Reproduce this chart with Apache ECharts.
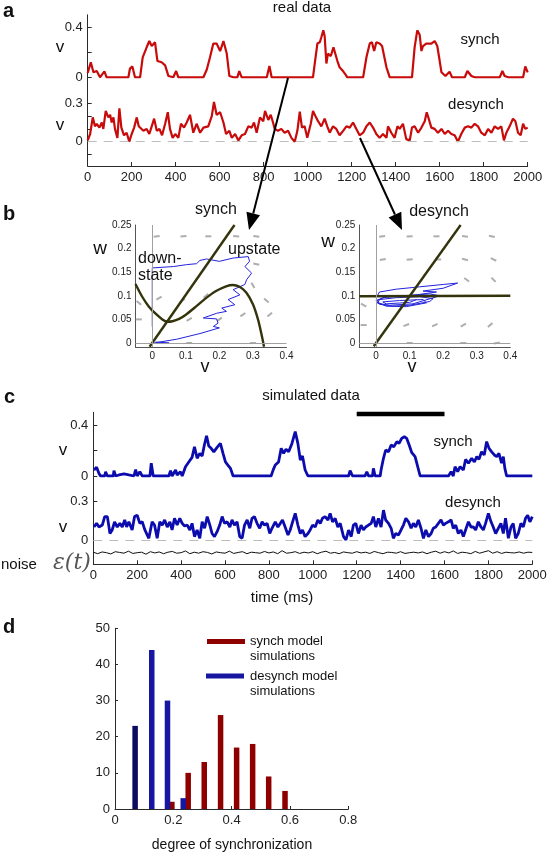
<!DOCTYPE html>
<html><head><meta charset="utf-8">
<script src="https://cdn.jsdelivr.net/npm/echarts@6/dist/echarts.min.js"></script>
<style>html,body{margin:0;padding:0;background:#fff}#c{width:550px;height:853px}</style>
</head><body><div id="c"></div>
<script>
// ---------- panel a : real data (time ms, v) ----------
const synchA = [[0,0.034],[14,0.12],[26,0.04],[41,0.05],[56,0],[76,0.047],[86,0],[185,0],[192,0.07],[203,0.087],[215,0],[238,0],[250,0.16],[268,0.24],[280,0.29],[291,0.25],[306,0.28],[317,0.13],[326,0.14],[336,0.12],[352,0.095],[367,0.01],[389,0],[402,0.05],[412,0],[526,0],[541,0.06],[556,0.16],[571,0.27],[586,0.27],[602,0.21],[617,0.29],[632,0.19],[644,0.01],[662,0],[680,0],[689,0.05],[700,0],[814,0],[826,0.09],[836,0],[1024,0],[1032,0.11],[1044,0.27],[1055,0.28],[1062,0.32],[1071,0.376],[1077,0.33],[1085,0.11],[1092,0.19],[1105,0.17],[1117,0.24],[1126,0.24],[1135,0.13],[1145,0.08],[1158,0.055],[1165,0.047],[1173,0.02],[1180,0],[1252,0],[1267,0.16],[1282,0.27],[1292,0.28],[1302,0.21],[1312,0.28],[1327,0.27],[1338,0.25],[1358,0.08],[1373,0],[1474,0],[1486,0.24],[1498,0.376],[1509,0.34],[1517,0.21],[1524,0.25],[1539,0.27],[1562,0.27],[1577,0.29],[1589,0.25],[1600,0.13],[1608,0.04],[1615,0.055],[1626,0.01],[1635,0.02],[1645,0.045],[1656,0],[1714,0],[1726,0.05],[1744,0.01],[1759,0],[1873,0],[1885,0.05],[1895,0.01],[1911,0],[1979,0],[1989,0.087],[2000,0.04]];
const desynchA = [[0,0.01],[11,0.06],[23,0.19],[33,0.12],[41,0.14],[53,0.11],[64,0.15],[71,0.10],[82,0.24],[94,0.19],[102,0.21],[109,0.15],[117,0.19],[124,0.10],[135,0.03],[144,0.26],[153,0.11],[165,0.05],[177,0.07],[189,0.0],[200,0.06],[211,0.11],[223,0.19],[232,0.12],[241,0.12],[253,0.085],[268,0.10],[280,0.06],[291,0.12],[302,0.18],[314,0.085],[326,0.10],[338,0.05],[352,0.14],[364,0.23],[374,0.10],[386,0.03],[398,0.06],[412,0.03],[424,0.14],[438,0.11],[450,0.15],[465,0.21],[480,0.07],[495,0.14],[511,0.07],[526,0.11],[548,0.12],[564,0.20],[574,0.31],[586,0.21],[602,0.23],[617,0.15],[629,0.06],[644,0.085],[655,0.03],[670,0.06],[685,0.01],[700,0.05],[715,0.06],[730,0.12],[745,0.11],[756,0.15],[768,0.07],[783,0.19],[798,0.16],[806,0.24],[821,0.17],[832,0.21],[844,0.14],[850,0.10],[865,0.085],[880,0.10],[895,0.07],[911,0.085],[926,0.03],[941,0.0],[953,0.085],[964,0.235],[974,0.11],[986,0.12],[998,0.03],[1014,0.14],[1024,0.24],[1035,0.20],[1047,0.16],[1062,0.12],[1077,0.18],[1089,0.12],[1100,0.07],[1115,0.12],[1130,0.10],[1145,0.05],[1161,0.085],[1176,0.12],[1191,0.11],[1206,0.15],[1221,0.10],[1236,0.05],[1252,0.07],[1267,0.12],[1282,0.15],[1297,0.11],[1312,0.06],[1327,0.03],[1342,0.06],[1358,0.03],[1365,0.12],[1380,0.07],[1395,0.03],[1408,0.12],[1418,0.10],[1433,0.14],[1448,0.02],[1464,0.01],[1474,0.11],[1486,0.12],[1502,0.07],[1517,0.11],[1532,0.16],[1541,0.23],[1550,0.18],[1562,0.11],[1577,0.10],[1592,0.07],[1608,0.10],[1623,0.06],[1638,0.085],[1653,0.06],[1668,0.05],[1683,0.0],[1698,0.06],[1714,0.11],[1729,0.12],[1744,0.11],[1759,0.14],[1774,0.12],[1789,0.07],[1805,0.05],[1820,0.10],[1835,0.07],[1850,0.12],[1865,0.10],[1880,0.12],[1892,0.01],[1903,0.07],[1918,0.12],[1933,0.18],[1944,0.16],[1956,0.07],[1968,0.05],[1979,0.14],[1989,0.10],[2000,0.11]];
const timeTicks = [0,200,400,600,800,1000,1200,1400,1600,1800,2000];

// ---------- panel b : phase planes (v, w) ----------
const bTicksV = [0,0.1,0.2,0.3,0.4];
const bTicksW = [0,0.05,0.1,0.15,0.2,0.25];
const lineNullL = [[-0.008,-0.008],[0.245,0.25]];
const cubicNullL = [[-0.05,0.125],[-0.03,0.098],[-0.01,0.077],[0.01,0.062],[0.03,0.05],[0.045,0.045],[0.06,0.046],[0.08,0.051],[0.1,0.06],[0.13,0.077],[0.16,0.095],[0.19,0.11],[0.22,0.12],[0.24,0.123],[0.26,0.119],[0.28,0.107],[0.3,0.082],[0.315,0.05],[0.325,0.02],[0.333,-0.008]];
const trajL = [[0,0.035],[0,0.159],[0.063,0.162],[0.102,0.166],[0.132,0.168],[0.142,0.175],[0.162,0.178],[0.2,0.173],[0.241,0.18],[0.286,0.183],[0.29,0.173],[0.276,0.162],[0.296,0.148],[0.281,0.134],[0.276,0.124],[0.241,0.113],[0.261,0.102],[0.226,0.092],[0.246,0.081],[0.207,0.074],[0.221,0.067],[0.192,0.063],[0.152,0.053],[0.192,0.051],[0.196,0.042],[0.182,0.035],[0.2,0.032],[0.142,0.02],[0.073,0.008],[0.013,0.001],[0,-0.001],[0.05,0.0],[0.01,0.002]];
const fieldL = [[0.013,0.226,8],[0.093,0.226,4],[0.167,0.226,0],[0.25,0.226,-4],[0.31,0.226,-8],[0.31,0.167,-12],[0.3,0.122,-60],[-0.04,0.085,-40],[0.02,0.095,30],[0.09,0.09,35],[0.16,0.1,40],[0.34,0.09,-40],[-0.04,0.05,0],[0.11,0.05,30],[0.2,0.05,35],[0.27,0.06,35],[0.35,0.06,40],[0.11,0.0,0],[0.3,0.0,0]];
const lineNullR = [[-0.007,-0.007],[0.252,0.25]];
const flatNullR = [[-0.05,0.099],[0.4,0.1]];
const trajR = [[0.0,0.095],[0.01,0.108],[0.06,0.114],[0.13,0.119],[0.2,0.124],[0.243,0.127],[0.2,0.116],[0.14,0.11],[0.18,0.108],[0.1,0.1],[0.03,0.098],[0.0,0.09],[0.01,0.082],[0.05,0.078],[0.1,0.08],[0.16,0.088],[0.17,0.094],[0.13,0.098],[0.06,0.096],[0.01,0.092],[0.005,0.084],[0.04,0.08],[0.11,0.083],[0.19,0.1],[0.16,0.104],[0.08,0.1],[0.02,0.096],[0.0,0.088],[0.03,0.078],[0.09,0.077],[0.15,0.085],[0.14,0.092],[0.07,0.09],[0.02,0.087],[0.03,0.083],[0.1,0.086],[0.12,0.092]];
const fieldR = [[0.018,0.226,8],[0.1,0.226,3],[0.18,0.226,0],[0.265,0.226,-8],[0.345,0.226,-12],[0.02,0.177,10],[0.1,0.177,5],[0.185,0.177,0],[0.265,0.177,-15],[0.35,0.177,-25],[0.27,0.134,-35],[0.35,0.134,-45],[-0.037,0.08,-30],[-0.037,0.038,0],[0.09,0.038,20],[0.175,0.038,25],[0.26,0.038,30],[0.34,0.038,40],[0.26,0.0,0],[0.36,0.0,10],[0.1,0.0,0]];

// ---------- panel c : simulated data ----------
const synchC = [[3,0.047],[15,0.068],[26,0.02],[33,0],[52,0],[56,0.034],[64,0],[91,0],[94,0.042],[102,0],[117,0.008],[140,0.016],[162,0.008],[185,0],[193,0.05],[200,0],[212,0.034],[223,0],[258,0],[264,0.1],[273,0],[344,0],[352,0.042],[359,0],[375,0.047],[382,0.008],[397,0.034],[405,0],[420,0.073],[435,0.11],[450,0.146],[461,0.23],[473,0.139],[485,0.178],[496,0.157],[506,0.243],[516,0.316],[526,0.235],[537,0.217],[549,0.19],[564,0.225],[579,0.256],[591,0.178],[602,0.11],[613,0.086],[625,0.06],[637,0],[810,0],[820,0.05],[829,0.086],[844,0.11],[856,0.217],[867,0.178],[878,0.21],[890,0.19],[905,0.256],[920,0.348],[932,0.256],[943,0.125],[953,0.157],[965,0.047],[978,0],[1163,0],[1170,0.042],[1181,0],[1238,0],[1246,0.034],[1254,0],[1272,0],[1276,0.06],[1284,0],[1307,0],[1311,0.047],[1322,0.139],[1332,0.204],[1345,0.19],[1357,0.243],[1369,0.23],[1383,0.27],[1393,0.256],[1405,0.295],[1417,0.308],[1428,0.295],[1439,0.243],[1451,0.183],[1466,0.152],[1475,0.165],[1489,0],[1618,0],[1630,0.034],[1640,0],[1648,0.073],[1660,0.034],[1671,0.073],[1686,0.047],[1696,0.13],[1709,0.1],[1724,0.139],[1736,0.11],[1747,0.152],[1757,0.131],[1769,0.19],[1781,0.165],[1792,0.27],[1803,0.217],[1815,0.19],[1827,0.165],[1838,0.152],[1848,0.178],[1860,0.1],[1868,0.152],[1875,0.06],[1883,0],[2000,0]];
const desynchC = [[3,0.10],[15,0.128],[26,0.10],[41,0.115],[52,0.18],[64,0.18],[76,0.05],[86,0.077],[97,0.14],[109,0.10],[121,0.128],[132,0.10],[143,0.154],[152,0.10],[162,0.14],[177,0.077],[188,0.18],[200,0.19],[212,0.128],[223,0.14],[234,0.082],[246,0.038],[253,0.013],[268,0.14],[279,0.115],[291,0.013],[303,0.14],[314,0.115],[325,0.154],[337,0.10],[349,0.14],[359,0.077],[370,0.167],[382,0.115],[394,0.167],[405,0.128],[416,0.108],[428,0.115],[440,0.077],[450,0.128],[461,0.026],[473,0.077],[485,0.013],[496,0.14],[507,0.09],[519,0.18],[531,0.115],[541,0.05],[552,0.026],[564,0.064],[576,0.115],[587,0.18],[598,0.128],[610,0.14],[622,0.10],[632,0.154],[643,0.115],[655,0.14],[667,0.026],[678,0.013],[689,0.115],[701,0.154],[713,0.09],[723,0.167],[734,0.18],[746,0.128],[758,0.09],[769,0.14],[780,0.115],[792,0.128],[804,0.05],[814,0.09],[829,0.14],[841,0.10],[852,0.128],[862,0.154],[874,0.10],[887,0.038],[897,0.077],[908,0.14],[920,0.205],[932,0.115],[943,0.05],[953,0.077],[965,0.026],[978,0.05],[988,0.077],[999,0.115],[1011,0.10],[1023,0.154],[1034,0.128],[1044,0.167],[1056,0.18],[1069,0.154],[1079,0.205],[1090,0.14],[1102,0.167],[1114,0.10],[1125,0.128],[1140,0.026],[1151,0.0],[1163,0.077],[1175,0.026],[1185,0.115],[1196,0.128],[1208,0.05],[1220,0.115],[1231,0.077],[1241,0.10],[1254,0.115],[1266,0.128],[1276,0.18],[1287,0.10],[1299,0.167],[1311,0.10],[1322,0.23],[1332,0.154],[1345,0.128],[1357,0.09],[1367,0.013],[1378,0.05],[1390,0.038],[1402,0.077],[1413,0.115],[1424,0.167],[1436,0.14],[1448,0.09],[1458,0.128],[1469,0.10],[1481,0.154],[1493,0.09],[1504,0.013],[1515,0.077],[1527,0.026],[1539,0.05],[1549,0.09],[1560,0.10],[1572,0.128],[1584,0.154],[1595,0.115],[1605,0.128],[1618,0.14],[1630,0.154],[1640,0.09],[1651,0.115],[1663,0.05],[1675,0.077],[1686,0.026],[1696,0.077],[1709,0.14],[1721,0.10],[1731,0.10],[1742,0.077],[1754,0.14],[1766,0.10],[1777,0.077],[1787,0.128],[1800,0.205],[1812,0.14],[1822,0.10],[1833,0.05],[1845,0.09],[1857,0.128],[1868,0.05],[1878,0.167],[1891,0.013],[1903,0.10],[1913,0.128],[1924,0.013],[1936,0.05],[1948,0.128],[1959,0.10],[1969,0.167],[1979,0.19],[1989,0.14],[2000,0.18]];
const noiseStep = 20; // ms between noise samples
const noiseC = [0.1,-0.2,0.15,0.0,-0.25,0.2,0.05,-0.1,0.3,-0.15,0.0,0.1,-0.3,0.2,-0.05,0.15,-0.2,0.1,0.25,-0.1,0.0,0.35,-0.2,0.1,-0.1,0.2,0.05,-0.25,0.15,0.0,-0.1,0.3,-0.15,0.05,0.2,-0.2,0.1,0.0,-0.1,0.25,-0.05,0.15,-0.2,0.4,-0.1,0.0,0.2,-0.15,0.1,-0.05,0.2,-0.2,0.1,0.3,-0.1,0.05,-0.2,0.15,0.0,-0.1,0.2,-0.05,0.1,-0.15,0.25,0.0,-0.2,0.1,0.05,-0.1,0.2,-0.15,0.0,0.1,-0.05,0.15,-0.2,0.1,0.3,-0.1,0.2,-0.05,0.35,-0.15,0.1,0.0,-0.2,0.25,-0.1,0.15,0.4,-0.1,0.2,-0.15,0.1,0.0,-0.05,0.15,-0.1,0.1,0.05];
const scaleBarT = [1200,1600];
const scaleBarLevel = 0.487;

// ---------- panel d : histogram ----------
const binsDesynch = [0.069,0.126,0.18,0.234];
const countsDesynch = [23,44,30,3];
const binsSynch = [0.195,0.251,0.306,0.362,0.417,0.472,0.527,0.583];
const countsSynch = [2,10,13,26,17,18,9,5];
const dTicksX = [0,0.2,0.4,0.6,0.8];

// ================= styling / layout =================
const FONT = "'Liberation Sans', Arial, Helvetica, sans-serif";
const RED = '#c80a0a', BLUE = '#0c0cae', OLIVE = '#34340c', TRAJ = '#2323dd', AX = '#2a2a2a';
const chart = echarts.init(document.getElementById('c'), null, {renderer:'canvas'});
const plain = v => String(v);

function ax(o){ // common axis style
  return Object.assign({
    type:'value', splitLine:{show:false},
    axisLine:{show:true, onZero:false, lineStyle:{color:AX, width:1}},
    axisTick:{show:true, inside:true, length:4, lineStyle:{color:AX}},
    axisLabel:{color:'#222', fontSize:13, fontFamily:FONT, margin:5, formatter:plain}
  }, o);
}
const hidden = (g, min, max) => ({gridIndex:g, type:'value', min, max, show:false});
const lbl = (vals, size, margin) => ({customValues:vals, color:'#222', fontSize:size||13, fontFamily:FONT, margin:margin||5, formatter:plain});
const tck = (vals, len) => ({show:true, inside:true, length:len||4, customValues:vals, lineStyle:{color:AX}});

const grids = [
  {left:87.7, top:14.8, width:440, height:62.5},   // 0 a synch
  {left:87.7, top:77.7, width:440, height:88.3},   // 1 a desynch
  {left:135.5, top:225, width:151, height:122},    // 2 b left
  {left:359.3, top:225, width:151, height:122},    // 3 b right
  {left:93.3, top:412.3, width:439, height:63.7},  // 4 c synch
  {left:93.3, top:475, width:439, height:89.3},    // 5 c desynch
  {left:93.3, top:542.7, width:439, height:20},    // 6 c noise
  {left:115, top:628.3, width:233.3, height:180.7} // 7 d
];

const bX = g => ax({gridIndex:g, min:-0.05, max:0.4,
  axisLine:{show:true,onZero:false,lineStyle:{color:'#555'}},
  axisTick:{show:false}, axisLabel:lbl(bTicksV, 10, 4)});
const bY = g => ax({gridIndex:g, min:-0.0085, max:0.25,
  axisLine:{show:true,onZero:false,lineStyle:{color:'#555'}},
  axisTick:{show:false}, axisLabel:lbl(bTicksW, 10, 4)});

const xAxes = [
  hidden(0,0,2000),
  ax({gridIndex:1, min:0, max:2000, axisLabel:lbl(timeTicks), axisTick:tck(timeTicks)}),
  bX(2), bX(3),
  hidden(4,0,2000),
  ax({gridIndex:5, min:0, max:2000, axisLabel:lbl(timeTicks), axisTick:tck(timeTicks)}),
  hidden(6,0,2000),
  ax({gridIndex:7, min:0, max:0.8, axisLabel:lbl(dTicksX), axisTick:tck(dTicksX,3)})
];
const yAxes = [
  ax({gridIndex:0, min:0, max:0.5, axisLabel:lbl([0,0.4]), axisTick:tck([0,0.2,0.4])}),
  ax({gridIndex:1, min:-0.19, max:0.5, axisLabel:lbl([0,0.3]), axisTick:tck([-0.1,0,0.1,0.2,0.3])}),
  bY(2), bY(3),
  ax({gridIndex:4, min:0, max:0.5, axisLabel:lbl([0,0.4]), axisTick:tck([0,0.2,0.4])}),
  ax({gridIndex:5, min:-0.187, max:0.5, axisLabel:lbl([0,0.3]), axisTick:tck([0,0.3])}),
  hidden(6,-2,2),
  ax({gridIndex:7, min:0, max:50, interval:10, axisTick:{show:true,inside:true,length:3,lineStyle:{color:AX}}})
];

const zeroDash = {silent:true, symbol:'none', label:{show:false}, lineStyle:{type:[9,7], color:'#bdbdbd', width:1}, data:[{yAxis:0}], animation:false};
const grayCross = {silent:true, symbol:'none', label:{show:false}, lineStyle:{type:'solid', color:'#a0a0a0', width:1}, data:[{xAxis:0},{yAxis:0}], animation:false};

function line(xi, data, color, width, extra){
  return Object.assign({type:'line', xAxisIndex:xi, yAxisIndex:xi, data, showSymbol:false, symbol:'none',
    lineStyle:{color, width}, animation:false, z:3}, extra||{});
}
function field(xi, arr){
  return {type:'scatter', xAxisIndex:xi, yAxisIndex:xi, animation:false, z:1, silent:true,
    symbol:'rect', symbolSize:[6,2], itemStyle:{color:'#9a9a9a'},
    data: arr.map(p => ({value:[p[0],p[1]], symbolRotate:p[2]})), markLine:grayCross};
}

const series = [
  line(0, synchA, RED, 2.2),
  line(1, desynchA, RED, 2.2, {markLine:zeroDash}),
  field(2, fieldL),
  line(2, trajL, TRAJ, 1),
  line(2, lineNullL, OLIVE, 2.4, {z:4}),
  line(2, cubicNullL, OLIVE, 2.4, {z:4, smooth:0.3}),
  field(3, fieldR),
  line(3, trajR, TRAJ, 1),
  line(3, lineNullR, OLIVE, 2.4, {z:4}),
  line(3, flatNullR, OLIVE, 2.4, {z:4}),
  line(4, synchC, BLUE, 2.8),
  line(4, scaleBarT.map(t => [t, scaleBarLevel]), '#000', 4.5, {clip:false}),
  line(5, desynchC, BLUE, 2.8, {markLine:zeroDash}),
  line(6, noiseC.map((n,i) => [i*noiseStep, n]), '#111', 1),
  {type:'bar', xAxisIndex:7, yAxisIndex:7, animation:false, barWidth:5.5, barGap:'-100%',
   itemStyle:{color:'#8e0000'}, data: binsSynch.map((b,i)=>[b,countsSynch[i]])},
  {type:'bar', xAxisIndex:7, yAxisIndex:7, animation:false, barWidth:5.5, barGap:'-100%',
   itemStyle:{color:'#1616a0'}, data: binsDesynch.map((b,i)=>({value:[b,countsDesynch[i]], itemStyle:{color: i===0 ? '#0b0b62' : '#1616a0'}}))}
];

function txt(text, x, y, size, opts){
  opts = opts || {};
  return {type:'text', x, y, silent:true, z:10, style:{text, font:(opts.style||'') + ' ' + (opts.weight||'normal') + ' ' + size + 'px ' + (opts.family||FONT),
    fill: opts.fill||'#111', align: opts.align||'center', verticalAlign:'middle', textAlign: opts.align||'center', textVerticalAlign:'middle'}};
}
function arrow(x1,y1,tx,ty,len,half){
  const dx=tx-x1, dy=ty-y1, L=Math.hypot(dx,dy), ux=dx/L, uy=dy/L;
  const bx=tx-ux*len, by=ty-uy*len, px=-uy, py=ux;
  return [
    {type:'line', silent:true, z:12, shape:{x1,y1,x2:bx,y2:by}, style:{stroke:'#000', lineWidth:2}},
    {type:'polygon', silent:true, z:12, shape:{points:[[tx,ty],[bx+px*half,by+py*half],[bx-px*half,by-py*half]]}, style:{fill:'#000'}}
  ];
}

const graphic = [
  txt('a', 3, 11, 20, {weight:'bold', align:'left'}),
  txt('real data', 302, 8, 15),
  txt('synch', 480, 40, 15),
  txt('desynch', 476, 105, 15),
  txt('v', 60, 47, 17),
  txt('v', 60, 125, 17),
  txt('b', 3, 214, 20, {weight:'bold', align:'left'}),
  txt('synch', 216, 210, 16),
  txt('desynch', 439, 212, 16),
  txt('w', 100, 249, 19),
  txt('w', 328, 242, 19),
  txt('down-', 138, 259, 16, {align:'left'}),
  txt('state', 138, 276, 16, {align:'left'}),
  txt('upstate', 228, 250, 16, {align:'left'}),
  txt('v', 205, 367, 18),
  txt('v', 412, 367, 18),
  txt('c', 4, 397, 20, {weight:'bold', align:'left'}),
  txt('simulated data', 311, 396, 15),
  txt('synch', 453, 442, 15),
  txt('desynch', 473, 503, 15),
  txt('v', 63, 450, 17),
  txt('v', 63, 527, 17),
  txt('noise', 1, 565, 15, {align:'left'}),
  txt('\u03b5(t)', 53, 563, 22, {align:'left', style:'italic', family:"'DejaVu Serif', 'Liberation Serif', serif", fill:'#555'}),
  txt('time (ms)', 282, 598, 15),
  txt('d', 3, 627, 20, {weight:'bold', align:'left'}),
  {type:'rect', silent:true, shape:{x:207, y:639, width:38, height:5}, style:{fill:'#8e0000'}},
  {type:'rect', silent:true, shape:{x:206, y:673.5, width:38, height:5}, style:{fill:'#1616a0'}},
  txt('synch model', 250, 641, 13, {align:'left'}),
  txt('simulations', 250, 656, 13, {align:'left'}),
  txt('desynch model', 250, 676, 13, {align:'left'}),
  txt('simulations', 250, 691, 13, {align:'left'}),
  txt('degree of synchronization', 232, 845, 14)
].concat(arrow(288,78,249,230,17,7), arrow(360,138,402,230,17,7));

chart.setOption({animation:false, backgroundColor:'#fff', grid:grids, xAxis:xAxes, yAxis:yAxes, series, graphic});
</script></body></html>
